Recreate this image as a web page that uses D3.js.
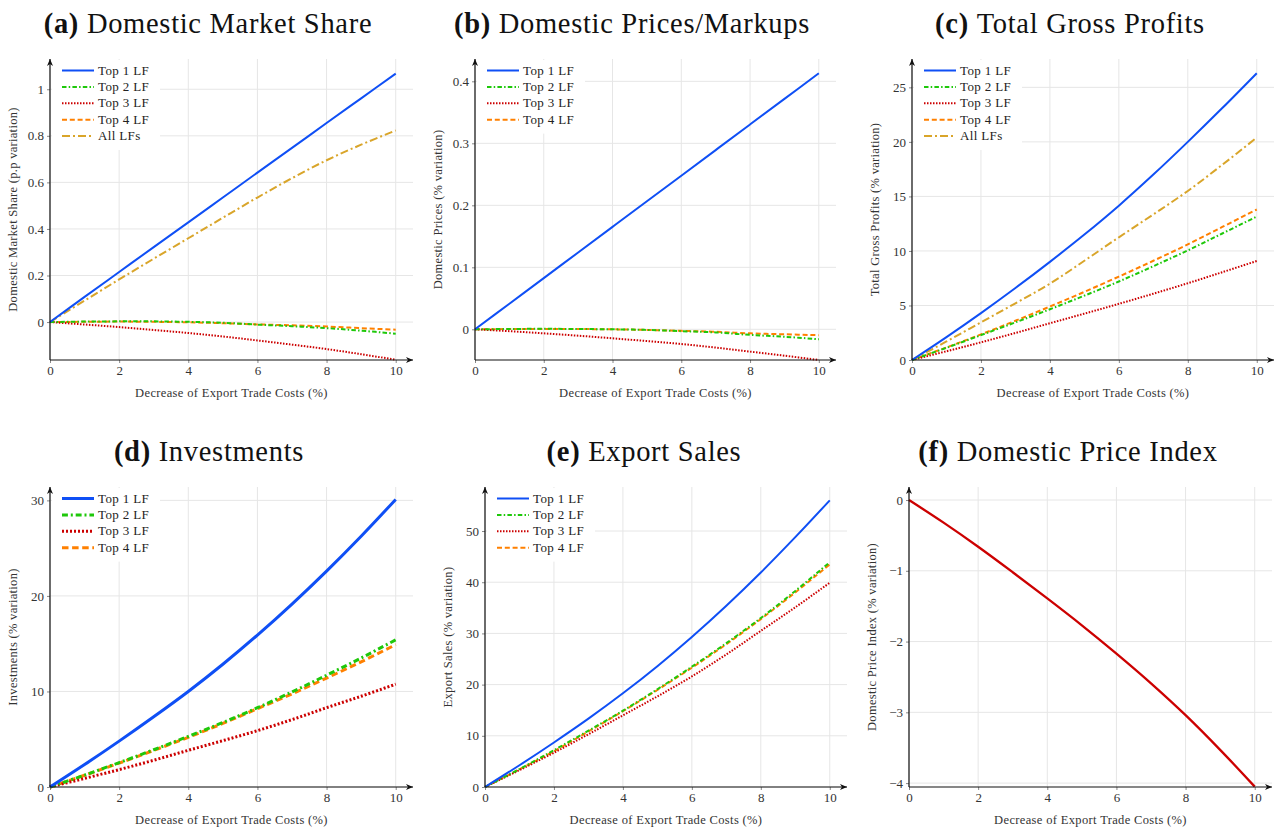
<!DOCTYPE html>
<html>
<head>
<meta charset="utf-8">
<script src="https://cdn.jsdelivr.net/npm/d3@7"></script>
<style>
  body { margin: 0; background: #fff; }
  svg { display: block; font-family: "Liberation Serif", "Times New Roman", serif; }
  .tick text { fill: #333; }
</style>
</head>
<body>
<div id="chart"></div>
<script>
// x values (decrease of export trade costs, %)
const costCut = [0, 1, 2, 3, 4, 5, 6, 7, 8, 9, 10];
const xTicks = [0, 2, 4, 6, 8, 10];

// (a) Domestic market share, p.p. variation
const shareTop1 = [0, 0.108, 0.215, 0.322, 0.428, 0.535, 0.642, 0.748, 0.855, 0.961, 1.067];
const shareTop2 = [0, 0.002, 0.003, 0.003, 0.001, -0.003, -0.011, -0.018, -0.026, -0.037, -0.05];
const shareTop3 = [0, -0.0105, -0.0215, -0.034, -0.047, -0.062, -0.079, -0.097, -0.116, -0.138, -0.162];
const shareTop4 = [0, 0.001, 0.002, 0.001, -0.001, -0.005, -0.01, -0.014, -0.019, -0.026, -0.033];
const shareAll  = [0, 0.092, 0.183, 0.272, 0.36, 0.448, 0.535, 0.618, 0.695, 0.762, 0.823];

// (b) Domestic prices / markups, % variation
const priceTop1 = [0, 0.0413, 0.0826, 0.1239, 0.1652, 0.2065, 0.2478, 0.2891, 0.3304, 0.3717, 0.413];
const priceTop2 = [0, 0.0005, 0.0008, 0.0005, 0, -0.001, -0.003, -0.005, -0.009, -0.012, -0.016];
const priceTop3 = [0, -0.003, -0.0065, -0.0103, -0.0145, -0.019, -0.0237, -0.0295, -0.036, -0.0425, -0.0495];
const priceTop4 = [0, 0.0004, 0.0006, 0.0004, 0, -0.001, -0.0025, -0.004, -0.0065, -0.008, -0.0095];

// (c) Total gross profits, % variation
const profitTop1 = [0, 2.1, 4.3, 6.6, 9.0, 11.5, 14.15, 17.0, 20.0, 23.1, 26.3];
const profitTop2 = [0, 1.12, 2.28, 3.45, 4.65, 5.9, 7.2, 8.6, 10.05, 11.6, 13.15];
const profitTop3 = [0, 0.8, 1.62, 2.48, 3.37, 4.25, 5.15, 6.08, 7.04, 8.05, 9.08];
const profitTop4 = [0, 1.15, 2.35, 3.6, 4.9, 6.25, 7.65, 9.1, 10.6, 12.2, 13.8];
const profitAll  = [0, 1.7, 3.45, 5.2, 7.0, 9.1, 11.25, 13.35, 15.5, 17.9, 20.4];

// (d) Investments, % variation
const investTop1 = [0, 2.35, 4.8, 7.35, 10.0, 12.85, 15.9, 19.15, 22.6, 26.25, 30.1];
const investTop2 = [0, 1.25, 2.55, 3.9, 5.3, 6.75, 8.3, 9.95, 11.7, 13.5, 15.4];
const investTop3 = [0, 0.9, 1.82, 2.8, 3.84, 4.85, 5.9, 7.05, 8.3, 9.5, 10.76];
const investTop4 = [0, 1.23, 2.5, 3.83, 5.2, 6.65, 8.2, 9.75, 11.4, 13.1, 14.9];

// (e) Export sales, % variation
const exportTop1 = [0, 4.25, 8.7, 13.35, 18.3, 23.6, 29.3, 35.4, 41.9, 48.8, 56.0];
const exportTop2 = [0, 3.5, 7.2, 11.0, 14.9, 19.1, 23.5, 28.1, 33.0, 38.3, 43.9];
const exportTop3 = [0, 3.3, 6.7, 10.3, 14.0, 17.7, 21.6, 25.9, 30.5, 35.1, 39.9];
const exportTop4 = [0, 3.45, 7.0, 10.85, 14.8, 18.95, 23.3, 27.9, 32.8, 38.0, 43.5];

// (f) Domestic price index, % variation
const priceIndex = [0, -0.32, -0.66, -1.02, -1.39, -1.77, -2.17, -2.59, -3.04, -3.53, -4.05];

const seriesNames = ["Top 1 LF", "Top 2 LF", "Top 3 LF", "Top 4 LF", "All LFs"];

const W = 1277, H = 829;

// line looks for each series
const styles = {
  "Top 1 LF": { color: "#0f4ff5", dash: null },
  "Top 2 LF": { color: "#1ec80a", dash: "4.5,2.2,1.5,2.2" },
  "Top 3 LF": { color: "#cc0000", dash: "1.5,1.5" },
  "Top 4 LF": { color: "#ff8000", dash: "5,2.8" },
  "All LFs":  { color: "#d9a52a", dash: "8,3,2,3" }
};

function bundle(values) {
  return values.map(v => costCut.map((x, i) => ({ x: x, y: v[i] })));
}

const panels = [
  { tag: "(a)", title: "Domestic Market Share", ylabel: "Domestic Market Share (p.p variation)",
    series: bundle([shareTop1, shareTop2, shareTop3, shareTop4, shareAll]), names: seriesNames,
    yDomain: [-0.163, 1.13], yTicks: [0, 0.2, 0.4, 0.6, 0.8, 1],
    box: { left: 50, right: 413, top: 59, bottom: 360 }, titleX: 208, width: 2 },
  { tag: "(b)", title: "Domestic Prices/Markups", ylabel: "Domestic Prices (% variation)",
    series: bundle([priceTop1, priceTop2, priceTop3, priceTop4]), names: seriesNames.slice(0, 4),
    yDomain: [-0.0495, 0.436], yTicks: [0, 0.1, 0.2, 0.3, 0.4],
    box: { left: 475, right: 836, top: 59, bottom: 360 }, titleX: 632, width: 2 },
  { tag: "(c)", title: "Total Gross Profits", ylabel: "Total Gross Profits (% variation)",
    series: bundle([profitTop1, profitTop2, profitTop3, profitTop4, profitAll]), names: seriesNames,
    yDomain: [0, 27.6], yTicks: [0, 5, 10, 15, 20, 25],
    box: { left: 912, right: 1274, top: 59, bottom: 360 }, titleX: 1070, width: 2 },
  { tag: "(d)", title: "Investments", ylabel: "Investments (% variation)",
    series: bundle([investTop1, investTop2, investTop3, investTop4]), names: seriesNames.slice(0, 4),
    yDomain: [0, 31.4], yTicks: [0, 10, 20, 30],
    box: { left: 50, right: 413, top: 487, bottom: 787 }, titleX: 209, width: 3 },
  { tag: "(e)", title: "Export Sales", ylabel: "Export Sales (% variation)",
    series: bundle([exportTop1, exportTop2, exportTop3, exportTop4]), names: seriesNames.slice(0, 4),
    yDomain: [0, 58.6], yTicks: [0, 10, 20, 30, 40, 50],
    box: { left: 485, right: 847, top: 487, bottom: 787 }, titleX: 644, width: 2 },
  { tag: "(f)", title: "Domestic Price Index", ylabel: "Domestic Price Index (% variation)",
    series: bundle([priceIndex]), names: null, lineColor: "#cc0000",
    yDomain: [-4.055, 0.184], yTicks: [0, -1, -2, -3, -4],
    box: { left: 909, right: 1272, top: 487, bottom: 787 }, titleX: 1068, width: 2.3 }
];

const svg = d3.select("#chart").append("svg")
  .attr("width", W)
  .attr("height", H);

const defs = svg.append("defs");
defs.append("marker")
  .attr("id", "arrow")
  .attr("viewBox", "0 0 8 8")
  .attr("refX", 7).attr("refY", 4)
  .attr("markerWidth", 8).attr("markerHeight", 8)
  .attr("markerUnits", "userSpaceOnUse")
  .attr("orient", "auto")
  .append("path")
  .attr("d", "M0,1 L7,4 L0,7 L2,4 Z")
  .attr("fill", "#111");

const fmt = d => (d < 0 ? "\u2212" + Math.abs(d) : String(d));

// scale dash patterns along with the thicker lines of panel (d)
const dashFor = (dash, width) =>
  dash && width > 2.5 ? dash.split(",").map(v => (+v * 1.3).toFixed(1)).join(",") : dash;

panels.forEach(p => {
  const b = p.box;
  const x = d3.scaleLinear().domain([0, 10.5]).range([b.left, b.right]);
  const y = d3.scaleLinear().domain(p.yDomain).range([b.bottom, b.top]);
  const g = svg.append("g");

  // title
  const t = g.append("text")
    .attr("x", p.titleX)
    .attr("y", b.top - 26)
    .attr("text-anchor", "middle")
    .style("font-size", "28.5px")
    .style("letter-spacing", "0.7px")
    .style("fill", "#111");
  t.append("tspan").style("font-weight", "bold").text(p.tag);
  t.append("tspan").text("\u00a0" + p.title);

  // grid
  g.append("g").selectAll("line").data(xTicks).join("line")
    .attr("x1", d => x(d)).attr("x2", d => x(d))
    .attr("y1", b.top).attr("y2", b.bottom)
    .attr("stroke", "#e6e6e6").attr("stroke-width", 1);
  g.append("g").selectAll("line").data(p.yTicks).join("line")
    .attr("x1", b.left).attr("x2", b.right)
    .attr("y1", d => y(d)).attr("y2", d => y(d))
    .attr("stroke", "#e6e6e6").attr("stroke-width", 1);

  // axes (ticks only, axis lines drawn with arrows below)
  const xAxis = g.append("g")
    .attr("transform", `translate(0,${b.bottom})`)
    .call(d3.axisBottom(x).tickValues(xTicks).tickSize(3).tickPadding(3).tickFormat(fmt));
  const yAxis = g.append("g")
    .attr("transform", `translate(${b.left},0)`)
    .call(d3.axisLeft(y).tickValues(p.yTicks).tickSize(3).tickPadding(3).tickFormat(fmt));
  [xAxis, yAxis].forEach(a => {
    a.select(".domain").remove();
    a.selectAll(".tick line").attr("stroke", "#888");
    a.selectAll(".tick text").style("font-size", "13px").style("font-family", "Liberation Serif, serif");
  });

  // axis labels
  g.append("text")
    .attr("x", (b.left + b.right) / 2)
    .attr("y", b.bottom + 37)
    .attr("text-anchor", "middle")
    .style("font-size", "12.5px")
    .style("letter-spacing", "0.35px")
    .style("fill", "#333")
    .text("Decrease of Export Trade Costs (%)");
  g.append("text")
    .attr("transform", `translate(${b.left - 33},${(b.top + b.bottom) / 2}) rotate(-90)`)
    .attr("text-anchor", "middle")
    .style("font-size", "12.5px")
    .style("letter-spacing", "0.3px")
    .style("fill", "#333")
    .text(p.ylabel);

  // legend background (covers grid)
  if (p.names) {
    g.append("rect")
      .attr("x", b.left + 2).attr("y", b.top + 1)
      .attr("width", 108)
      .attr("height", p.names.length * 16.4 + 8)
      .attr("fill", "#fff");
  }

  // data lines
  const line = d3.line().x(d => x(d.x)).y(d => y(d.y)).curve(d3.curveCatmullRom.alpha(0.5));
  // draw Top 1 last so it sits on top
  p.series.map((s, i) => i).reverse().forEach(i => {
    const name = p.names ? p.names[i] : null;
    const st = name ? styles[name] : { color: p.lineColor, dash: null };
    g.append("path")
      .datum(p.series[i])
      .attr("fill", "none")
      .attr("stroke", st.color)
      .attr("stroke-width", p.width)
      .attr("stroke-dasharray", dashFor(st.dash, p.width))
      .attr("d", line);
  });

  // axis lines with arrows
  g.append("line")
    .attr("x1", b.left).attr("x2", b.right)
    .attr("y1", b.bottom).attr("y2", b.bottom)
    .attr("stroke", "#111").attr("stroke-width", 1.2)
    .attr("marker-end", "url(#arrow)");
  g.append("line")
    .attr("x1", b.left).attr("x2", b.left)
    .attr("y1", b.bottom).attr("y2", b.top)
    .attr("stroke", "#111").attr("stroke-width", 1.2)
    .attr("marker-end", "url(#arrow)");

  // legend entries
  if (p.names) {
    const leg = g.append("g");
    p.names.forEach((name, i) => {
      const st = styles[name];
      const ly = b.top + 11.5 + i * 16.4;
      leg.append("line")
        .attr("x1", b.left + 12).attr("x2", b.left + 44)
        .attr("y1", ly).attr("y2", ly)
        .attr("stroke", st.color)
        .attr("stroke-width", p.width)
        .attr("stroke-dasharray", dashFor(st.dash, p.width));
      leg.append("text")
        .attr("x", b.left + 48)
        .attr("y", ly + 4)
        .style("font-size", "13px")
        .style("letter-spacing", "0.35px")
        .style("fill", "#222")
        .text(name);
    });
  }
});
</script>
</body>
</html>
